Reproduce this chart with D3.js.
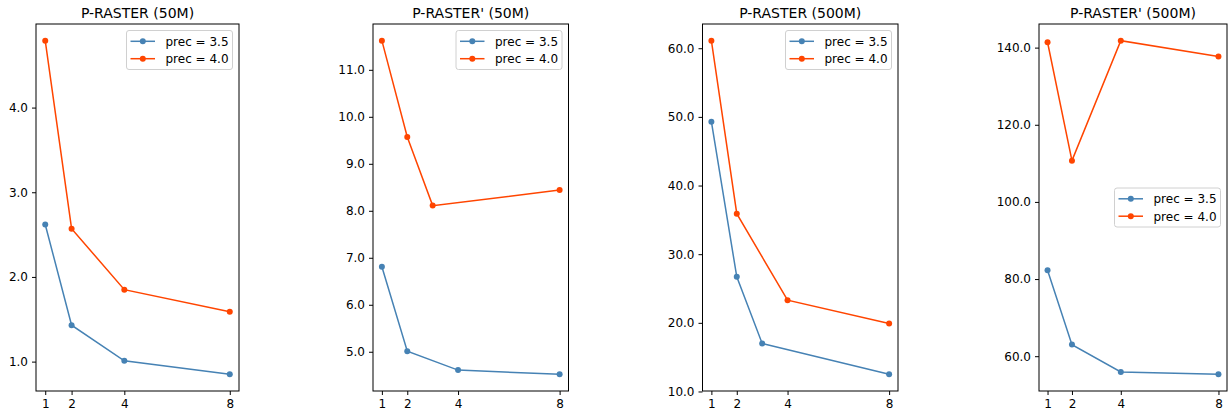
<!DOCTYPE html>
<html>
<head>
<meta charset="utf-8">
<script src="https://d3js.org/d3.v7.min.js"></script>
<style>
  body { margin: 0; background: #fff; }
  text { font-family: "DejaVu Sans", sans-serif; fill: #000; }
</style>
</head>
<body>
<svg id="chart" width="1228" height="410"></svg>
<script>
// chart data
const titles = ["P-RASTER (50M)", "P-RASTER' (50M)", "P-RASTER (500M)", "P-RASTER' (500M)"]
const seriesNames = ["prec = 3.5", "prec = 4.0"]
const xTicks = [1, 2, 4, 8]

const p1x35 = [1, 2, 4, 8], p1y35 = [2.62, 1.43, 1.01, 0.85]
const p1x40 = [1, 2, 4, 8], p1y40 = [4.79, 2.57, 1.85, 1.59]
const p2x35 = [1, 2, 4, 8], p2y35 = [6.81, 5.01, 4.61, 4.52]
const p2x40 = [1, 2, 3, 8], p2y40 = [11.62, 9.57, 8.11, 8.44]
const p3x35 = [1, 2, 3, 8], p3y35 = [49.3, 26.7, 17.0, 12.5]
const p3x40 = [1, 2, 4, 8], p3y40 = [61.1, 35.9, 23.3, 19.9]
const p4x35 = [1, 2, 4, 8], p4y35 = [82.3, 63.0, 55.9, 55.3]
const p4x40 = [1, 2, 4, 8], p4y40 = [141.4, 110.7, 141.8, 137.7]

const p1Ticks = [1, 2, 3, 4]
const p2Ticks = [5, 6, 7, 8, 9, 10, 11]
const p3Ticks = [10, 20, 30, 40, 50, 60]
const p4Ticks = [60, 80, 100, 120, 140]

const colors = ["steelblue", "orangered"]

// panel frames (pixels) and legend placement
const panels = [
  { left: 36, right: 239, title: titles[0], s: [[p1x35, p1y35], [p1x40, p1y40]], ticks: p1Ticks, legend: "upper right" },
  { left: 373, right: 568.5, title: titles[1], s: [[p2x35, p2y35], [p2x40, p2y40]], ticks: p2Ticks, legend: "upper right" },
  { left: 702.5, right: 898, title: titles[2], s: [[p3x35, p3y35], [p3x40, p3y40]], ticks: p3Ticks, legend: "upper right" },
  { left: 1039, right: 1227, title: titles[3], s: [[p4x35, p4y35], [p4x40, p4y40]], ticks: p4Ticks, legend: "center right" }
]
const plotTop = 24, plotBottom = 391
const fontSize = 12

const svg = d3.select("#chart")

// matplotlib style autoscale: data extent plus 5% on each side
function padded(vals) {
  let [lo, hi] = d3.extent(vals)
  let m = (hi - lo) * 0.05
  return [lo - m, hi + m]
}

panels.forEach(p => {
  let allX = p.s.flatMap(d => d[0])
  let allY = p.s.flatMap(d => d[1])
  let x = d3.scaleLinear().domain(padded(allX)).range([p.left, p.right])
  let y = d3.scaleLinear().domain(padded(allY)).range([plotBottom, plotTop])

  let g = svg.append("g")

  // series lines and markers
  p.s.forEach((ser, i) => {
    let pts = ser[0].map((v, k) => [v, ser[1][k]])
    g.append("path")
      .datum(pts)
      .attr("d", d3.line().x(d => x(d[0])).y(d => y(d[1])))
      .attr("fill", "none")
      .attr("stroke", colors[i])
      .attr("stroke-width", 1.5)
    g.selectAll(null).data(pts).join("circle")
      .attr("cx", d => x(d[0]))
      .attr("cy", d => y(d[1]))
      .attr("r", 3)
      .attr("fill", colors[i])
  })

  // axes
  let xa = g.append("g").attr("transform", `translate(0,${plotBottom})`)
    .call(d3.axisBottom(x).tickValues(xTicks).tickSize(4).tickPadding(4).tickFormat(d3.format("d")))
  let ya = g.append("g").attr("transform", `translate(${p.left},0)`)
    .call(d3.axisLeft(y).tickValues(p.ticks).tickSize(4).tickPadding(4).tickFormat(d3.format(".1f")))
  ;[xa, ya].forEach(a => {
    a.select(".domain").remove()
    a.selectAll("line").attr("stroke", "#000").attr("stroke-width", 1)
    a.selectAll("text").attr("font-size", fontSize).attr("font-family", "DejaVu Sans").attr("fill", "#000")
  })

  // frame
  g.append("rect")
    .attr("x", p.left).attr("y", plotTop)
    .attr("width", p.right - p.left).attr("height", plotBottom - plotTop)
    .attr("fill", "none").attr("stroke", "#000").attr("stroke-width", 1)

  // title
  g.append("text")
    .attr("x", (p.left + p.right) / 2).attr("y", 18)
    .attr("text-anchor", "middle")
    .attr("font-size", 14)
    .text(p.title)

  // legend
  let lw = 106, lh = 39
  let lx = p.right - 6.5 - lw
  let ly = p.legend == "upper right" ? plotTop + 6.5 : (plotTop + plotBottom) / 2 - lh / 2
  let lg = g.append("g").attr("transform", `translate(${lx},${ly})`)
  lg.append("rect")
    .attr("width", lw).attr("height", lh).attr("rx", 2.5)
    .attr("fill", "#fff").attr("fill-opacity", 0.8)
    .attr("stroke", "#d0d0d0").attr("stroke-width", 1)
  seriesNames.forEach((name, i) => {
    let ry = 10.8 + i * 17.4
    lg.append("line")
      .attr("x1", 4).attr("x2", 28.5).attr("y1", ry).attr("y2", ry)
      .attr("stroke", colors[i]).attr("stroke-width", 1.5)
    lg.append("circle").attr("cx", 16.3).attr("cy", ry).attr("r", 3).attr("fill", colors[i])
    lg.append("text")
      .attr("x", 39).attr("y", ry + 4.4)
      .attr("font-size", fontSize)
      .text(name)
  })
})
</script>
</body>
</html>
